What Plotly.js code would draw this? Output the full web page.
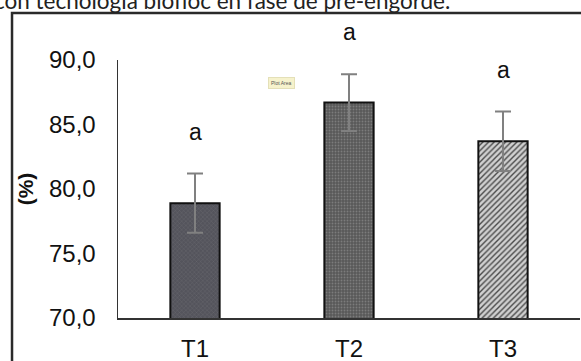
<!DOCTYPE html>
<html>
<head>
<meta charset="utf-8">
<script src="https://cdn.plot.ly/plotly-3.0.1.min.js"></script>
<style>
  html, body { margin: 0; padding: 0; background: #fff; }
  #chart { width: 581px; height: 361px; }
</style>
</head>
<body>
<div id="chart"></div>
<script>
// ---- data ----
var categories = ['T1', 'T2', 'T3'];
var values = [78.9, 86.7, 83.7];
var errors = [2.3, 2.2, 2.3];
var letters = ['a', 'a', 'a'];
var yTickVals = [70, 75, 80, 85, 90];
var caption = 'con tecnología biofloc en fase de pre-engorde.';
var yTitle = '(%)';

var numFont = 'Liberation Sans, Arial, sans-serif';

// solid base fill
var base = {
  type: 'bar',
  x: categories,
  y: values,
  width: 0.32,
  marker: {
    color: ['#54545c', '#585858', '#d0d0d0'],
    line: { width: 0 }
  },
  hoverinfo: 'skip'
};

// texture + outline + error bars on top
var texture = {
  type: 'bar',
  x: categories,
  y: values,
  width: 0.32,
  marker: {
    color: 'rgba(0,0,0,0)',
    line: { color: '#111', width: 2 },
    pattern: {
      shape: ['x', '.', '/'],
      fgcolor: ['#6e6e74', '#7c7c7c', '#4a4a4a'],
      bgcolor: 'rgba(0,0,0,0)',
      size: [3, 3, 4],
      solidity: [0.2, 0.3, 0.35],
      fillmode: 'replace'
    }
  },
  error_y: {
    type: 'data',
    array: errors,
    visible: true,
    color: '#808080',
    thickness: 2,
    width: 8
  },
  hoverinfo: 'skip'
};

var annotations = categories.map(function (c, i) {
  return {
    x: c, y: values[i] + errors[i], xref: 'x', yref: 'y',
    text: letters[i], showarrow: false, yanchor: 'middle', yshift: 42,
    font: { family: numFont, size: 23, color: '#111' }
  };
});

annotations.push({
  xref: 'paper', yref: 'paper', x: -0.2727, y: 1.17,
  xanchor: 'left', yanchor: 'bottom',
  text: caption, showarrow: false,
  font: { family: 'Lato, sans-serif', size: 22.5, color: '#222' }
});

annotations.push({
  xref: 'paper', yref: 'paper', x: 0.354, y: 0.911,
  xanchor: 'center', yanchor: 'middle',
  text: 'Plot Area', showarrow: false,
  bgcolor: '#f6f2cc', bordercolor: '#e4e0b8', borderwidth: 1, borderpad: 2,
  font: { family: numFont, size: 5, color: '#555' }
});

var layout = {
  width: 581,
  height: 361,
  margin: { l: 118, r: 1, t: 60, b: 43 },
  paper_bgcolor: '#fff',
  plot_bgcolor: '#fff',
  separators: ', ',
  showlegend: false,
  barmode: 'overlay',
  xaxis: {
    type: 'category',
    range: [-0.5, 2.5],
    showline: true, linecolor: '#333', linewidth: 1.5,
    showgrid: false, zeroline: false, ticks: '',
    ticklabelstandoff: 9,
    tickfont: { family: numFont, size: 24, color: '#111' }
  },
  yaxis: {
    range: [70, 90],
    tickvals: yTickVals,
    tickformat: '.1f',
    showline: true, linecolor: '#333', linewidth: 1.5,
    showgrid: false, zeroline: false, ticks: '',
    ticklabelstandoff: 16,
    tickfont: { family: numFont, size: 24, color: '#111' },
    title: {
      text: '<b>' + yTitle + '</b>',
      standoff: 9,
      font: { family: numFont, size: 21, color: '#111' }
    }
  },
  annotations: annotations,
  shapes: [{
    type: 'rect', xref: 'paper', yref: 'paper',
    x0: -0.2294, x1: 1.2, y0: -0.4, y1: 1.182,
    line: { color: '#2a2a2a', width: 2.5 },
    layer: 'below'
  }]
};

Plotly.newPlot('chart', [base, texture], layout, { staticPlot: true, displayModeBar: false });
</script>
</body>
</html>
